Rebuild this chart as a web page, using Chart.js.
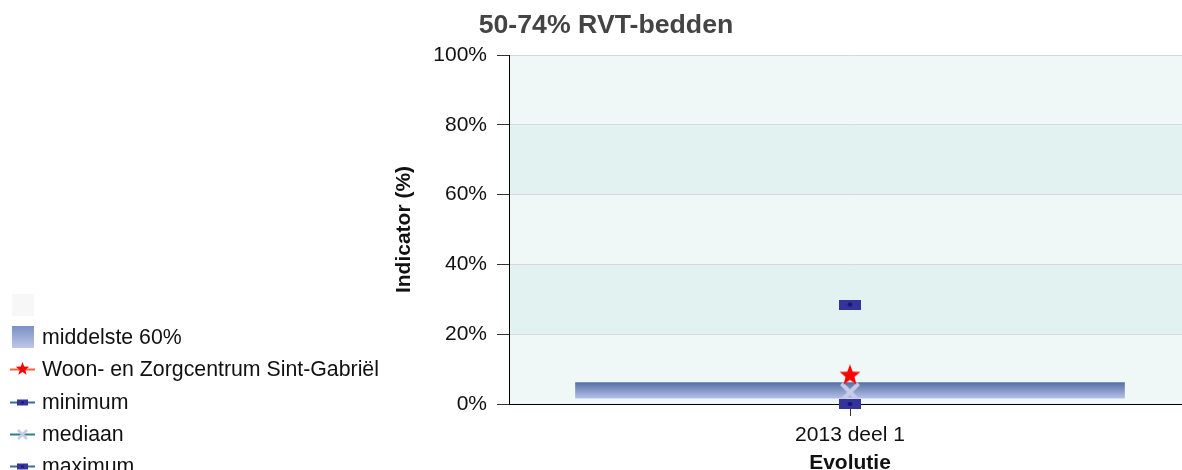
<!DOCTYPE html>
<html lang="nl">
<head>
<meta charset="utf-8">
<title>50-74% RVT-bedden</title>
<script src="https://cdn.jsdelivr.net/npm/chart.js@4.4.1/dist/chart.umd.min.js"></script>
<style>
    html, body { margin: 0; padding: 0; background: #fff; overflow: hidden; }
    body { width: 1182px; height: 470px; position: relative; font-family: "Liberation Sans", Arial, sans-serif; }
    #wrap { position: absolute; left: 0; top: 0; width: 1200px; height: 480px; }
    #title { position: absolute; left: 406px; width: 400px; top: 9px; text-align: center; font-weight: bold; font-size: 26.7px; line-height: 30px; color: #444; }
    .item { position: absolute; left: 0; width: 400px; height: 32px; line-height: 32px; font-size: 21.3px; color: #111; white-space: nowrap; }
    .item canvas { position: absolute; left: 6px; top: 5px; }
    .item span { position: absolute; left: 42px; top: 0; }
</style>
</head>
<body>
<div id="wrap"><canvas id="myChart" width="1200" height="480"></canvas></div>
<div id="title">50-74% RVT-bedden</div>
<div id="legend"></div>
<script>
// categories and values (percent)
const categories = ['2013 deel 1'];
const middle60 = [[1.6, 6.2]];
const facility = [8.2];
const minimum = [0];
const median = [3.4];
const maximum = [28.5];

const legendNames = ['', 'middelste 60%', 'Woon- en Zorgcentrum Sint-Gabriël', 'minimum', 'mediaan', 'maximum'];

const FONT = '"Liberation Sans", Arial, sans-serif';
const BAR_TOP = '#5470a3';
const BAR_BOTTOM = '#b6c0e8';
const BAND_LIGHT = '#f0f8f7';
const BAND_DARK = '#e2f2f0';

function newCanvas(w, h) {
    const c = document.createElement('canvas');
    c.width = w;
    c.height = h;
    return c;
}

function drawStar(g, cx, cy, r, color) {
    const ri = r * 0.42;
    g.beginPath();
    for (let i = 0; i < 10; i++) {
        const a = -Math.PI / 2 + i * Math.PI / 5;
        const rr = i % 2 ? ri : r;
        g.lineTo(cx + rr * Math.cos(a), cy + rr * Math.sin(a));
    }
    g.closePath();
    g.fillStyle = color;
    g.fill();
}

function drawRect(g, cx, cy, w, h) {
    g.fillStyle = '#333399';
    g.fillRect(cx - w / 2, cy - h / 2, w, h);
    g.fillStyle = '#14147a';
    g.beginPath();
    g.ellipse(cx, cy, Math.max(1.2, w / 9), Math.max(1, h / 5), 0, 0, Math.PI * 2);
    g.fill();
}

function drawCross(g, cx, cy, s, lw) {
    g.strokeStyle = '#c7cbe9';
    g.lineWidth = lw;
    g.beginPath();
    g.moveTo(cx - s, cy - s); g.lineTo(cx + s, cy + s);
    g.moveTo(cx + s, cy - s); g.lineTo(cx - s, cy + s);
    g.stroke();
}

// point images used on the chart
const starImg = newCanvas(22, 22);
drawStar(starImg.getContext('2d'), 11, 11, 11, '#ff0000');
const rectImg = newCanvas(22, 10);
drawRect(rectImg.getContext('2d'), 11, 5, 22, 10);
const crossImg = newCanvas(22, 22);
drawCross(crossImg.getContext('2d'), 11, 11, 8.5, 4);

// legend
function legendIcon(i) {
    const c = newCanvas(34, 22);
    const g = c.getContext('2d');
    const lineColors = { 2: '#e8663f', 3: '#3a68ae', 4: '#2f7f88', 5: '#3a68ae' };
    if (i === 0) {
        g.fillStyle = '#f7f7f7';
        g.fillRect(6, 0, 22, 22);
    } else if (i === 1) {
        const gr = g.createLinearGradient(0, 0, 0, 22);
        gr.addColorStop(0, '#7b90c3');
        gr.addColorStop(1, '#bcc6ea');
        g.fillStyle = gr;
        g.fillRect(6, 0, 22, 22);
    } else {
        g.strokeStyle = lineColors[i];
        g.lineWidth = 2;
        g.beginPath();
        g.moveTo(4, 11.5); g.lineTo(29, 11.5);
        g.stroke();
        if (i === 2) drawStar(g, 16.5, 11, 7, '#ff0000');
        else if (i === 4) drawCross(g, 16.5, 11.5, 4.5, 2.5);
        else drawRect(g, 16.5, 11.5, 11, 6);
    }
    return c;
}

const legendEl = document.getElementById('legend');
legendNames.forEach((name, i) => {
    const row = document.createElement('div');
    row.className = 'item';
    row.style.top = (305 + i * 32.2 - 16) + 'px';
    row.appendChild(legendIcon(i));
    const span = document.createElement('span');
    span.textContent = name;
    row.appendChild(span);
    legendEl.appendChild(row);
});

const bandsPlugin = {
    id: 'bands',
    beforeDraw(chart) {
        const { ctx, chartArea, scales } = chart;
        const ticks = scales.y.ticks;
        ctx.save();
        for (let i = 0; i < ticks.length - 1; i++) {
            const y0 = scales.y.getPixelForValue(ticks[i].value);
            const y1 = scales.y.getPixelForValue(ticks[i + 1].value);
            ctx.fillStyle = i % 2 ? BAND_DARK : BAND_LIGHT;
            ctx.fillRect(chartArea.left, y1, chartArea.right - chartArea.left, y0 - y1);
        }
        ctx.restore();
    }
};

function barGradient(context) {
    const chart = context.chart;
    if (!chart.chartArea || !context.raw) return BAR_BOTTOM;
    const y = chart.scales.y;
    const top = y.getPixelForValue(context.raw[1]);
    const bottom = y.getPixelForValue(context.raw[0]);
    const g = chart.ctx.createLinearGradient(0, top, 0, bottom);
    g.addColorStop(0, BAR_TOP);
    g.addColorStop(1, BAR_BOTTOM);
    return g;
}

function pointSet(label, data, img, order) {
    return {
        type: 'line',
        label: label,
        data: data,
        showLine: false,
        pointStyle: img,
        pointRadius: 8,
        pointHoverRadius: 8,
        clip: false,
        order: order
    };
}

const canvas = document.getElementById('myChart');
new Chart(canvas.getContext('2d'), {
    type: 'bar',
    data: {
        labels: categories,
        datasets: [
            pointSet(legendNames[2], facility, starImg, 1),
            pointSet(legendNames[5], maximum, rectImg, 2),
            pointSet(legendNames[3], minimum, rectImg, 2),
            pointSet(legendNames[4], median, crossImg, 3),
            {
                type: 'bar',
                label: legendNames[1],
                data: middle60,
                backgroundColor: barGradient,
                borderWidth: 0,
                barPercentage: 0.806,
                categoryPercentage: 1,
                order: 10
            }
        ]
    },
    plugins: [bandsPlugin],
    options: {
        responsive: false,
        animation: false,
        events: [],
        layout: { padding: { left: 392, top: 55, right: 7, bottom: 4 } },
        plugins: {
            legend: { display: false },
            tooltip: { enabled: false },
            title: { display: false }
        },
        scales: {
            x: {
                type: 'category',
                offset: true,
                afterFit(scale) { scale.height = 72; },
                grid: { drawOnChartArea: false, offset: false, tickLength: 12, tickColor: '#333', tickWidth: 1 },
                border: { display: true, color: '#000', width: 1 },
                ticks: { color: '#111', padding: 7, font: { family: FONT, size: 21 } },
                title: { display: true, text: 'Evolutie', color: '#111', padding: 0, font: { family: FONT, size: 21, weight: 'bold' } }
            },
            y: {
                min: 0,
                max: 100,
                afterFit(scale) { scale.width = 117; },
                ticks: {
                    stepSize: 20,
                    color: '#111',
                    padding: 10,
                    font: { family: FONT, size: 21 },
                    callback: v => v + '%'
                },
                grid: { color: '#d8d8d8', tickLength: 12, tickColor: '#333', lineWidth: 1 },
                border: { display: true, color: '#000', width: 1 },
                title: { display: true, text: 'Indicator (%)', color: '#111', padding: { top: 0, bottom: 0 }, font: { family: FONT, size: 21, weight: 'bold' } }
            }
        }
    }
});
</script>
</body>
</html>
